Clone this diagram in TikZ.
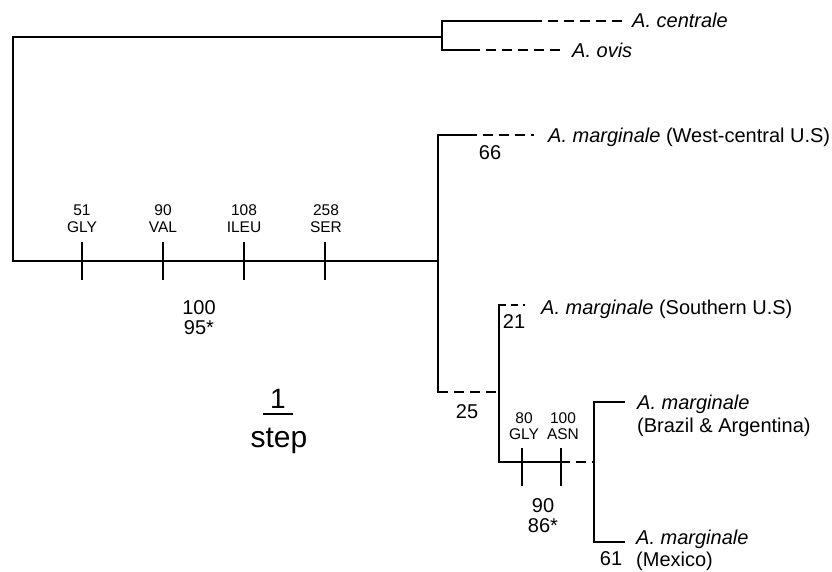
\documentclass[tikz,border=0pt]{standalone}
\usepackage{fontspec}
\setmainfont{Liberation Sans}
\begin{document}
\begin{tikzpicture}[x=1pt,y=-1pt,
  br/.style={line width=2.2pt,line cap=rect},
  dsh/.style={line width=2.2pt,dash pattern=on 10pt off 6pt},
  tk/.style={line width=2.2pt},
  sp/.style={anchor=base west,inner sep=0pt,font=\fontsize{20}{23}\selectfont},
  num/.style={anchor=base,inner sep=0pt,font=\fontsize{20}{20}\selectfont},
  mut/.style={anchor=base,inner sep=0pt,font=\fontsize{15.5}{17}\selectfont}]
\useasboundingbox (0,0) rectangle (832,571);
% root
\coordinate (r1) at (13,37);
\coordinate (r2) at (13,261);
\coordinate (ta) at (442,37);
\coordinate (lb) at (438,261);
\draw[br] (ta) -- (r1) -- (r2) -- (lb);
% top clade
\coordinate (ct) at (442,21);
\coordinate (cb) at (442,50);
\coordinate (cs) at (532,21);
\coordinate (ce) at (624,21);
\coordinate (os) at (470,50);
\coordinate (oe) at (564,50);
\draw[br] (ta) -- +(-22,0);
\draw[br] (cs) -- (ct) -- (cb) -- (os);
\draw[dsh] (cs) -- (ce);
\draw[dsh] (os) -- (oe);
\node[sp] (cen) at (632,27) {\itshape A. centrale};
\node[sp] (ovi) at (572,57) {\itshape A. ovis};
% lower clade
\coordinate (wt) at (438,135);
\coordinate (wb) at (438,392);
\coordinate (ws) at (467,135);
\coordinate (we) at (534,135);
\draw[br] (ws) -- (wt) -- (wb);
\draw[dsh] (ws) -- (we);
\node[sp] (wc) at (548,142) {\itshape A. marginale\upshape\ (West-central U.S)};
\node[num] (n66) at (490,159) {66};
% southern clade
\coordinate (st) at (499,305);
\coordinate (sb) at (499,462);
\coordinate (ss) at (525,305);
\draw[dsh] (wb) -- (499,392);
\node[num] (n25) at (467,418) {25};
\draw[br] (st) -- (sb);
\draw[line width=2.2pt,dash pattern=on 7pt off 5pt] (st) -- (ss);
\node[sp] (sou) at (541,314) {\itshape A. marginale\upshape\ (Southern U.S)};
\node[num] (n21) at (514,328) {21};
\coordinate (bs) at (560,462);
\coordinate (rc) at (594,462);
\draw[br] (sb) -- (bs);
\draw[dsh] (bs) -- ++(3,0) -- (rc);
% right clade
\coordinate (rt) at (594,402);
\coordinate (rb) at (594,542);
\coordinate (rte) at (624,402);
\coordinate (rbe) at (624,542);
\draw[br] (rte) -- (rt) -- (rb) -- (rbe);
\node[sp,align=left] (bra) at (637,432) {\itshape A. marginale\\(Brazil \& Argentina)};
\node[sp,align=left,font=\fontsize{20}{22}\selectfont] (mex) at (636,566) {\itshape A. marginale\\(Mexico)};
\node[num] (n61) at (611,565) {61};
% ticks small clade
\foreach \x/\n in {522/k1,561/k2}{
  \coordinate (\n a) at (\x,448);
  \coordinate (\n b) at (\x,486);
  \draw[tk] (\n a) -- (\n b);
}
\node[mut,align=center,font=\fontsize{15.5}{16}\selectfont] (m80) at (524,439.5) {80\\GLY};
\node[mut,align=center,font=\fontsize{15.5}{16}\selectfont] (m100) at (563,439.5) {100\\ASN};
\node[num,align=center] (b90) at (543,532) {90\\86*};
% ticks root
\foreach \x/\n in {82/t1,163/t2,244/t3,325/t4}{
  \coordinate (\n a) at (\x,242);
  \coordinate (\n b) at (\x,280);
  \draw[tk] (\n a) -- (\n b);
}
\node[mut,align=center] (m51) at (82,232.5) {51\\GLY};
\node[mut,align=center] (m90) at (163,232.5) {90\\VAL};
\node[mut,align=center] (m108) at (244,232.5) {108\\ILEU};
\node[mut,align=center] (m258) at (326,232.5) {258\\SER};
\node[num,align=center] (b100) at (199,334) {100\\95*};
% scale
\node[anchor=base,inner sep=0pt,font=\fontsize{28}{28}\selectfont] (one) at (278,408) {1};
\coordinate (s1) at (263,414);
\coordinate (s2) at (293,414);
\draw[line width=2pt] (s1) -- (s2);
\node[anchor=base,inner sep=0pt,font=\fontsize{30}{30}\selectfont] (stp) at (279,447) {step};
\end{tikzpicture}
\end{document}
